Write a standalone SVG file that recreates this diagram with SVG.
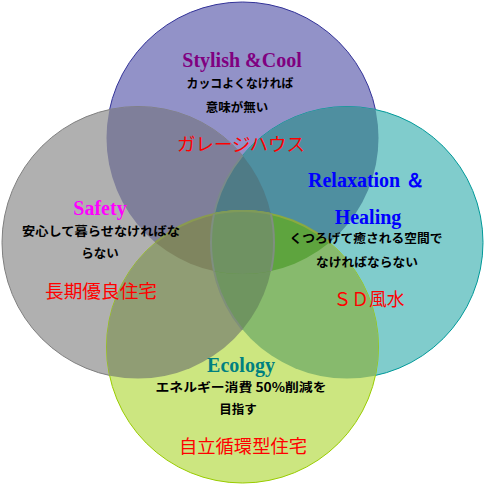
<svg xmlns="http://www.w3.org/2000/svg" width="485" height="485" viewBox="0 0 485 485">
<style>
.hd{font-family:"Liberation Serif","Times New Roman",serif;font-weight:bold;font-size:20px;text-anchor:middle}
.jp{font-family:"Noto Sans CJK JP","Noto Sans",sans-serif;font-size:12.5px;font-weight:bold;fill:#000;text-anchor:middle}
.rd{font-family:"Noto Sans CJK JP","Noto Sans",sans-serif;font-size:18px;fill:#ff0000;text-anchor:middle}
</style>
<defs>
<clipPath id="cT"><circle cx="242.5" cy="138" r="136"/></clipPath>
<clipPath id="cL"><circle cx="138" cy="242.5" r="136"/></clipPath>
<clipPath id="cR"><circle cx="347" cy="242.5" r="136"/></clipPath>
<clipPath id="cB"><circle cx="242.5" cy="347" r="136"/></clipPath>
</defs>
<rect width="485" height="485" fill="#fff"/>
<g id="venn">
<circle cx="242.5" cy="138" r="136" fill="#9292c8" stroke="#333399" stroke-width="1"/>
<circle cx="138" cy="242.5" r="136" fill="#b0b0b0" stroke="#808080" stroke-width="1"/>
<circle cx="347" cy="242.5" r="136" fill="#80cccc" stroke="#009999" stroke-width="1"/>
<circle cx="242.5" cy="347" r="136" fill="#cce680" stroke="#99cc00" stroke-width="1"/>
<g clip-path="url(#cT)"><circle cx="138" cy="242.5" r="136" fill="#7f7f9a"/></g>
<g clip-path="url(#cT)"><circle cx="347" cy="242.5" r="136" fill="#4f8fa0"/></g>
<g clip-path="url(#cB)"><circle cx="138" cy="242.5" r="136" fill="#909d74"/></g>
<g clip-path="url(#cB)"><circle cx="347" cy="242.5" r="136" fill="#87ba6d"/></g>
<g clip-path="url(#cT)"><g clip-path="url(#cL)"><circle cx="347" cy="242.5" r="136" fill="#4f7b86" stroke="#7a8a8a" stroke-width="2"/></g></g>
<g clip-path="url(#cB)"><g clip-path="url(#cL)"><circle cx="347" cy="242.5" r="136" fill="#6f9560" stroke="#7f8f7a" stroke-width="2"/></g></g>
<g clip-path="url(#cL)"><g clip-path="url(#cT)"><circle cx="242.5" cy="347" r="136" fill="#7f855f" stroke="#8a9a50" stroke-width="2"/></g></g>
<g clip-path="url(#cR)"><g clip-path="url(#cT)"><circle cx="242.5" cy="347" r="136" fill="#5ea43e" stroke="#8aaa40" stroke-width="2"/></g></g>
<g clip-path="url(#cL)"><g clip-path="url(#cR)"><g clip-path="url(#cT)"><circle cx="242.5" cy="347" r="136" fill="#6f9262" stroke="#7f9a5a" stroke-width="2"/></g></g></g>
<g clip-path="url(#cT)"><g clip-path="url(#cB)"><circle cx="138" cy="242.5" r="136" fill="none" stroke="#7f8f80" stroke-width="2"/><circle cx="347" cy="242.5" r="136" fill="none" stroke="#7f8f80" stroke-width="2"/></g></g>
</g>
<g id="connectors"/>
<g id="node-stylish">
<text class="hd" x="242" y="67" fill="#800080">Stylish &amp;Cool</text>
<text class="jp" x="240" y="88" textLength="107" lengthAdjust="spacingAndGlyphs">カッコよくなければ</text>
<text class="jp" x="237" y="112">意味が無い</text>
<text class="rd" x="241" y="151" textLength="128" lengthAdjust="spacingAndGlyphs">ガレージハウス</text>
</g>
<g id="node-safety">
<text class="hd" x="100" y="215" fill="#ff00ff">Safety</text>
<text class="jp" x="101" y="236" textLength="158" lengthAdjust="spacingAndGlyphs">安心して暮らせなければな</text>
<text class="jp" x="100" y="258">らない</text>
<text class="rd" x="101" y="298" textLength="112" lengthAdjust="spacingAndGlyphs">長期優良住宅</text>
</g>
<g id="node-relaxation">
<text class="hd" x="308" y="187" fill="#0000ff" style="text-anchor:start">Relaxation ＆</text>
<text class="hd" x="368" y="224" fill="#0000ff">Healing</text>
<text class="jp" x="366" y="243" textLength="153" lengthAdjust="spacingAndGlyphs">くつろげて癒される空間で</text>
<text class="jp" x="367" y="267" textLength="102" lengthAdjust="spacingAndGlyphs">なければならない</text>
<text class="rd" x="369" y="306" textLength="71" lengthAdjust="spacingAndGlyphs">ＳＤ風水</text>
</g>
<g id="node-ecology">
<text class="hd" x="241" y="372" fill="#008080">Ecology</text>
<text class="jp" x="241" y="392" textLength="171" lengthAdjust="spacingAndGlyphs">エネルギー消費 50%削減を</text>
<text class="jp" x="238" y="414">目指す</text>
<text class="rd" x="243" y="453" textLength="128" lengthAdjust="spacingAndGlyphs">自立循環型住宅</text>
</g>
</svg>
